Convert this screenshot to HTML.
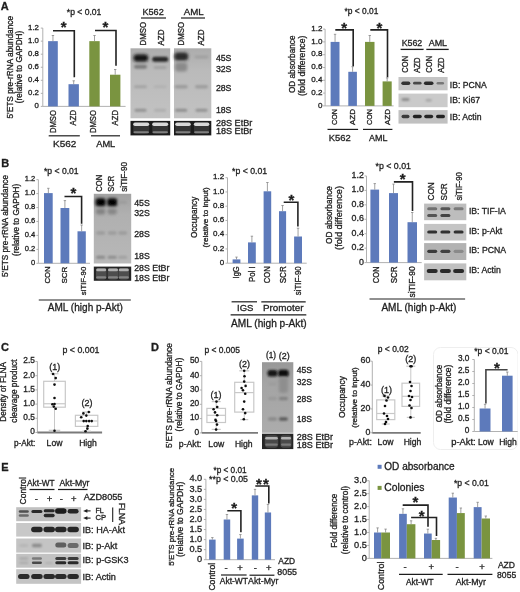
<!DOCTYPE html><html><head><meta charset="utf-8"><style>html,body{margin:0;padding:0;background:#fff;}svg{display:block;} text{stroke:#1e1e1e;stroke-width:0.3px;}</style></head><body>
<svg width="520" height="592" viewBox="0 0 520 592" font-family="Liberation Sans, sans-serif">
<rect width="520" height="592" fill="#fff"/>
<defs>
<filter id="b06" x="-50%" y="-50%" width="200%" height="200%"><feGaussianBlur stdDeviation="0.6"/></filter>
<filter id="b1" x="-50%" y="-50%" width="200%" height="200%"><feGaussianBlur stdDeviation="1"/></filter>
<filter id="b15" x="-50%" y="-50%" width="200%" height="200%"><feGaussianBlur stdDeviation="1.5"/></filter>
<filter id="gb" x="0" y="0" width="100%" height="100%"><feGaussianBlur stdDeviation="0.42"/></filter>
<filter id="b2" x="-50%" y="-50%" width="200%" height="200%"><feGaussianBlur stdDeviation="2"/></filter>
<linearGradient id="gelA" x1="0" y1="0" x2="0" y2="1"><stop offset="0" stop-color="#acacac"/><stop offset="0.3" stop-color="#bababa"/><stop offset="1" stop-color="#c2c2c2"/></linearGradient>
<linearGradient id="gelD" x1="0" y1="0" x2="0" y2="1"><stop offset="0" stop-color="#989898"/><stop offset="0.3" stop-color="#a4a4a4"/><stop offset="1" stop-color="#acacac"/></linearGradient>
<linearGradient id="gelB" x1="0" y1="0" x2="0" y2="1"><stop offset="0" stop-color="#a2a2a2"/><stop offset="0.3" stop-color="#b0b0b0"/><stop offset="1" stop-color="#b8b8b8"/></linearGradient>
</defs>
<g filter="url(#gb)">
<text x="0.80" y="9.60" font-size="11.00" text-anchor="start" font-weight="bold" fill="#1e1e1e">A</text>
<text x="66.80" y="14.77" font-size="8.59" text-anchor="start" fill="#1e1e1e">*p &lt; 0.01</text>
<line x1="42.80" y1="28.10" x2="42.80" y2="106.40" stroke="#a8a8a8" stroke-width="0.9"/>
<line x1="40.80" y1="106.40" x2="42.80" y2="106.40" stroke="#a8a8a8" stroke-width="0.9"/>
<text x="38.90" y="108.09" font-size="7.80" text-anchor="end" fill="#1e1e1e">0</text>
<line x1="40.80" y1="93.35" x2="42.80" y2="93.35" stroke="#a8a8a8" stroke-width="0.9"/>
<text x="38.90" y="95.04" font-size="7.80" text-anchor="end" fill="#1e1e1e">0.2</text>
<line x1="40.80" y1="80.30" x2="42.80" y2="80.30" stroke="#a8a8a8" stroke-width="0.9"/>
<text x="38.90" y="81.99" font-size="7.80" text-anchor="end" fill="#1e1e1e">0.4</text>
<line x1="40.80" y1="67.25" x2="42.80" y2="67.25" stroke="#a8a8a8" stroke-width="0.9"/>
<text x="38.90" y="68.94" font-size="7.80" text-anchor="end" fill="#1e1e1e">0.6</text>
<line x1="40.80" y1="54.20" x2="42.80" y2="54.20" stroke="#a8a8a8" stroke-width="0.9"/>
<text x="38.90" y="55.89" font-size="7.80" text-anchor="end" fill="#1e1e1e">0.8</text>
<line x1="40.80" y1="41.15" x2="42.80" y2="41.15" stroke="#a8a8a8" stroke-width="0.9"/>
<text x="38.90" y="42.84" font-size="7.80" text-anchor="end" fill="#1e1e1e">1.0</text>
<line x1="40.80" y1="28.10" x2="42.80" y2="28.10" stroke="#a8a8a8" stroke-width="0.9"/>
<text x="38.90" y="29.79" font-size="7.80" text-anchor="end" fill="#1e1e1e">1.2</text>
<line x1="42.80" y1="106.40" x2="125.60" y2="106.40" stroke="#a8a8a8" stroke-width="0.9"/>
<rect x="48.10" y="41.15" width="9.70" height="65.25" fill="#5d7abb" />
<line x1="52.95" y1="41.15" x2="52.95" y2="35.50" stroke="#808080" stroke-width="0.75"/>
<line x1="51.75" y1="35.50" x2="54.15" y2="35.50" stroke="#808080" stroke-width="0.75"/>
<rect x="68.50" y="84.20" width="10.40" height="22.20" fill="#5d7abb" />
<line x1="73.70" y1="84.20" x2="73.70" y2="80.80" stroke="#808080" stroke-width="0.75"/>
<line x1="72.50" y1="80.80" x2="74.90" y2="80.80" stroke="#808080" stroke-width="0.75"/>
<rect x="89.30" y="41.15" width="10.40" height="65.25" fill="#7a9440" />
<line x1="94.50" y1="41.15" x2="94.50" y2="35.50" stroke="#808080" stroke-width="0.75"/>
<line x1="93.30" y1="35.50" x2="95.70" y2="35.50" stroke="#808080" stroke-width="0.75"/>
<rect x="110.00" y="74.70" width="10.40" height="31.70" fill="#7a9440" />
<line x1="115.20" y1="74.70" x2="115.20" y2="69.50" stroke="#808080" stroke-width="0.75"/>
<line x1="114.00" y1="69.50" x2="116.40" y2="69.50" stroke="#808080" stroke-width="0.75"/>
<polyline points="53.00,30.80 74.30,30.80 74.30,77.30" fill="none" stroke="#222" stroke-width="1.6"/>
<polyline points="95.00,30.50 116.00,30.50 116.00,65.70" fill="none" stroke="#222" stroke-width="1.6"/>
<text x="63.70" y="32.20" font-size="15.00" text-anchor="middle" font-weight="bold" fill="#1e1e1e">*</text>
<text x="105.40" y="31.90" font-size="15.00" text-anchor="middle" font-weight="bold" fill="#1e1e1e">*</text>
<text transform="translate(55.71,133.10) rotate(-90)" x="0" y="0" font-size="8.40" text-anchor="start" fill="#1e1e1e" textLength="23.10" lengthAdjust="spacingAndGlyphs">DMSO</text>
<text transform="translate(75.91,125.40) rotate(-90)" x="0" y="0" font-size="8.40" text-anchor="start" fill="#1e1e1e" textLength="15.40" lengthAdjust="spacingAndGlyphs">AZD</text>
<text transform="translate(96.31,133.10) rotate(-90)" x="0" y="0" font-size="8.40" text-anchor="start" fill="#1e1e1e" textLength="23.10" lengthAdjust="spacingAndGlyphs">DMSO</text>
<text transform="translate(117.61,125.40) rotate(-90)" x="0" y="0" font-size="8.40" text-anchor="start" fill="#1e1e1e" textLength="15.40" lengthAdjust="spacingAndGlyphs">AZD</text>
<line x1="48.70" y1="135.80" x2="79.80" y2="135.80" stroke="#1e1e1e" stroke-width="1.2"/>
<line x1="91.00" y1="135.80" x2="120.00" y2="135.80" stroke="#1e1e1e" stroke-width="1.2"/>
<text x="53.00" y="146.97" font-size="9.98" text-anchor="start" fill="#1e1e1e">K562</text>
<text x="96.20" y="146.73" font-size="9.29" text-anchor="start" fill="#1e1e1e">AML</text>
<text transform="translate(12.50,118.50) rotate(-90)" x="0" y="0" font-size="8.31" text-anchor="start" fill="#1e1e1e">5'ETS pre-rRNA abundance</text>
<text transform="translate(21.90,103.20) rotate(-90)" x="0" y="0" font-size="8.21" text-anchor="start" fill="#1e1e1e">(relative to GAPDH)</text>
<text x="142.50" y="15.06" font-size="9.10" text-anchor="start" fill="#1e1e1e">K562</text>
<line x1="141.00" y1="18.00" x2="166.00" y2="18.00" stroke="#1e1e1e" stroke-width="1.2"/>
<text x="183.75" y="15.28" font-size="9.73" text-anchor="start" fill="#1e1e1e">AML</text>
<line x1="181.00" y1="18.00" x2="205.00" y2="18.00" stroke="#1e1e1e" stroke-width="1.2"/>
<text transform="translate(145.94,45.50) rotate(-90)" x="0" y="0" font-size="8.20" text-anchor="start" fill="#1e1e1e" textLength="23.50" lengthAdjust="spacingAndGlyphs">DMSO</text>
<text transform="translate(163.94,45.50) rotate(-90)" x="0" y="0" font-size="8.20" text-anchor="start" fill="#1e1e1e" textLength="16.00" lengthAdjust="spacingAndGlyphs">AZD</text>
<text transform="translate(183.94,45.50) rotate(-90)" x="0" y="0" font-size="8.20" text-anchor="start" fill="#1e1e1e" textLength="23.50" lengthAdjust="spacingAndGlyphs">DMSO</text>
<text transform="translate(203.94,45.50) rotate(-90)" x="0" y="0" font-size="8.20" text-anchor="start" fill="#1e1e1e" textLength="16.00" lengthAdjust="spacingAndGlyphs">AZD</text>
<rect x="130.50" y="48.30" width="39.70" height="70.00" fill="url(#gelA)" />
<rect x="174.00" y="48.30" width="37.30" height="70.00" fill="url(#gelA)" />
<rect x="133.30" y="54.25" width="15.00" height="7.50" rx="3.75" fill="#141414" opacity="1" filter="url(#b15)"/>
<rect x="152.20" y="56.70" width="16.00" height="5.00" rx="2.50" fill="#262626" opacity="1" filter="url(#b1)"/>
<rect x="134.00" y="64.80" width="13.00" height="4.00" rx="2.00" fill="#7c7c7c" opacity="1" filter="url(#b1)"/>
<rect x="153.60" y="66.00" width="13.00" height="3.00" rx="1.50" fill="#a2a2a2" opacity="1" filter="url(#b1)"/>
<rect x="134.00" y="85.30" width="13.00" height="3.00" rx="1.50" fill="#a4a4a4" opacity="1" filter="url(#b1)"/>
<rect x="153.60" y="85.30" width="13.00" height="3.00" rx="1.50" fill="#b2b2b2" opacity="1" filter="url(#b1)"/>
<rect x="134.50" y="108.80" width="12.00" height="3.00" rx="1.50" fill="#929292" opacity="1" filter="url(#b1)"/>
<rect x="154.10" y="108.80" width="12.00" height="3.00" rx="1.50" fill="#aeaeae" opacity="1" filter="url(#b1)"/>
<rect x="174.20" y="52.50" width="14.00" height="8.00" rx="3.50" fill="#2c2c2c" opacity="1" filter="url(#b15)"/>
<rect x="175.20" y="62.50" width="12.00" height="9.00" rx="3.00" fill="#8a8a8a" opacity="1" filter="url(#b15)"/>
<rect x="194.50" y="55.50" width="14.00" height="3.00" rx="1.50" fill="#a0a0a0" opacity="1" filter="url(#b1)"/>
<rect x="174.70" y="85.05" width="13.00" height="3.50" rx="1.75" fill="#9c9c9c" opacity="1" filter="url(#b1)"/>
<rect x="195.00" y="85.05" width="13.00" height="3.50" rx="1.75" fill="#9e9e9e" opacity="1" filter="url(#b1)"/>
<rect x="175.20" y="108.80" width="12.00" height="3.00" rx="1.50" fill="#8e8e8e" opacity="1" filter="url(#b1)"/>
<rect x="195.50" y="108.80" width="12.00" height="3.00" rx="1.50" fill="#929292" opacity="1" filter="url(#b1)"/>
<rect x="130.50" y="120.90" width="39.70" height="14.50" fill="#1c1c1c" />
<rect x="133.20" y="122.71" width="16.00" height="10.88" rx="4.00" fill="#363636" opacity="1" filter="url(#b06)"/>
<rect x="133.20" y="122.50" width="16.00" height="3.48" rx="1.74" fill="#d8d8d8" opacity="1" filter="url(#b06)"/>
<rect x="133.45" y="131.20" width="15.50" height="2.03" rx="1.02" fill="#808080" opacity="1" filter="url(#b06)"/>
<rect x="152.20" y="122.71" width="16.00" height="10.88" rx="4.00" fill="#363636" opacity="1" filter="url(#b06)"/>
<rect x="152.20" y="122.50" width="16.00" height="3.48" rx="1.74" fill="#d8d8d8" opacity="1" filter="url(#b06)"/>
<rect x="152.45" y="131.20" width="15.50" height="2.03" rx="1.02" fill="#808080" opacity="1" filter="url(#b06)"/>
<rect x="174.00" y="120.90" width="37.30" height="14.50" fill="#1c1c1c" />
<rect x="175.25" y="122.71" width="15.50" height="10.88" rx="3.88" fill="#363636" opacity="1" filter="url(#b06)"/>
<rect x="175.25" y="122.50" width="15.50" height="3.48" rx="1.74" fill="#d8d8d8" opacity="1" filter="url(#b06)"/>
<rect x="175.50" y="131.20" width="15.00" height="2.03" rx="1.02" fill="#808080" opacity="1" filter="url(#b06)"/>
<rect x="193.85" y="122.71" width="15.50" height="10.88" rx="3.88" fill="#363636" opacity="1" filter="url(#b06)"/>
<rect x="193.85" y="122.50" width="15.50" height="3.48" rx="1.74" fill="#d8d8d8" opacity="1" filter="url(#b06)"/>
<rect x="194.10" y="131.20" width="15.00" height="2.03" rx="1.02" fill="#808080" opacity="1" filter="url(#b06)"/>
<text x="215.90" y="60.64" font-size="8.76" text-anchor="start" fill="#1e1e1e">45S</text>
<text x="215.90" y="72.24" font-size="8.76" text-anchor="start" fill="#1e1e1e">32S</text>
<text x="215.90" y="90.74" font-size="8.76" text-anchor="start" fill="#1e1e1e">28S</text>
<text x="215.90" y="112.64" font-size="8.76" text-anchor="start" fill="#1e1e1e">18S</text>
<text x="215.90" y="125.96" font-size="9.10" text-anchor="start" fill="#1e1e1e">28S EtBr</text>
<text x="215.90" y="134.26" font-size="9.10" text-anchor="start" fill="#1e1e1e">18S EtBr</text>
<text x="344.60" y="14.30" font-size="8.39" text-anchor="start" fill="#1e1e1e">*p &lt; 0.01</text>
<line x1="325.10" y1="29.10" x2="325.10" y2="105.90" stroke="#a8a8a8" stroke-width="0.9"/>
<line x1="323.10" y1="105.90" x2="325.10" y2="105.90" stroke="#a8a8a8" stroke-width="0.9"/>
<text x="322.40" y="107.69" font-size="8.06" text-anchor="end" fill="#1e1e1e">0</text>
<line x1="323.10" y1="93.10" x2="325.10" y2="93.10" stroke="#a8a8a8" stroke-width="0.9"/>
<text x="322.40" y="94.89" font-size="8.06" text-anchor="end" fill="#1e1e1e">0.2</text>
<line x1="323.10" y1="80.30" x2="325.10" y2="80.30" stroke="#a8a8a8" stroke-width="0.9"/>
<text x="322.40" y="82.09" font-size="8.06" text-anchor="end" fill="#1e1e1e">0.4</text>
<line x1="323.10" y1="67.50" x2="325.10" y2="67.50" stroke="#a8a8a8" stroke-width="0.9"/>
<text x="322.40" y="69.29" font-size="8.06" text-anchor="end" fill="#1e1e1e">0.6</text>
<line x1="323.10" y1="54.70" x2="325.10" y2="54.70" stroke="#a8a8a8" stroke-width="0.9"/>
<text x="322.40" y="56.49" font-size="8.06" text-anchor="end" fill="#1e1e1e">0.8</text>
<line x1="323.10" y1="41.90" x2="325.10" y2="41.90" stroke="#a8a8a8" stroke-width="0.9"/>
<text x="322.40" y="43.69" font-size="8.06" text-anchor="end" fill="#1e1e1e">1.0</text>
<line x1="323.10" y1="29.10" x2="325.10" y2="29.10" stroke="#a8a8a8" stroke-width="0.9"/>
<text x="322.40" y="30.89" font-size="8.06" text-anchor="end" fill="#1e1e1e">1.2</text>
<line x1="325.10" y1="105.90" x2="393.60" y2="105.90" stroke="#a8a8a8" stroke-width="0.9"/>
<rect x="330.60" y="41.90" width="8.90" height="64.00" fill="#5d7abb" />
<line x1="335.05" y1="41.90" x2="335.05" y2="34.30" stroke="#808080" stroke-width="0.75"/>
<line x1="333.85" y1="34.30" x2="336.25" y2="34.30" stroke="#808080" stroke-width="0.75"/>
<rect x="348.30" y="71.80" width="8.60" height="34.10" fill="#5d7abb" />
<line x1="352.60" y1="71.80" x2="352.60" y2="66.70" stroke="#808080" stroke-width="0.75"/>
<line x1="351.40" y1="66.70" x2="353.80" y2="66.70" stroke="#808080" stroke-width="0.75"/>
<rect x="365.00" y="41.90" width="9.50" height="64.00" fill="#7a9440" />
<line x1="369.75" y1="41.90" x2="369.75" y2="35.50" stroke="#808080" stroke-width="0.75"/>
<line x1="368.55" y1="35.50" x2="370.95" y2="35.50" stroke="#808080" stroke-width="0.75"/>
<rect x="382.60" y="81.40" width="9.10" height="24.50" fill="#7a9440" />
<line x1="387.15" y1="81.40" x2="387.15" y2="77.90" stroke="#808080" stroke-width="0.75"/>
<line x1="385.95" y1="77.90" x2="388.35" y2="77.90" stroke="#808080" stroke-width="0.75"/>
<polyline points="335.30,29.90 353.20,29.90 353.20,66.20" fill="none" stroke="#222" stroke-width="1.6"/>
<polyline points="370.30,29.90 387.50,29.90 387.50,77.20" fill="none" stroke="#222" stroke-width="1.6"/>
<text x="344.20" y="32.60" font-size="15.00" text-anchor="middle" font-weight="bold" fill="#1e1e1e">*</text>
<text x="379.40" y="32.60" font-size="15.00" text-anchor="middle" font-weight="bold" fill="#1e1e1e">*</text>
<text transform="translate(337.16,125.00) rotate(-90)" x="0" y="0" font-size="8.00" text-anchor="start" fill="#1e1e1e" textLength="16.02" lengthAdjust="spacingAndGlyphs">CON</text>
<text transform="translate(354.86,125.00) rotate(-90)" x="0" y="0" font-size="8.00" text-anchor="start" fill="#1e1e1e" textLength="16.00" lengthAdjust="spacingAndGlyphs">AZD</text>
<text transform="translate(371.96,125.00) rotate(-90)" x="0" y="0" font-size="8.00" text-anchor="start" fill="#1e1e1e" textLength="16.02" lengthAdjust="spacingAndGlyphs">CON</text>
<text transform="translate(390.36,125.00) rotate(-90)" x="0" y="0" font-size="8.00" text-anchor="start" fill="#1e1e1e" textLength="16.00" lengthAdjust="spacingAndGlyphs">AZD</text>
<line x1="327.50" y1="129.40" x2="358.10" y2="129.40" stroke="#1e1e1e" stroke-width="1.2"/>
<line x1="363.00" y1="129.40" x2="392.40" y2="129.40" stroke="#1e1e1e" stroke-width="1.2"/>
<text x="328.70" y="141.07" font-size="9.42" text-anchor="start" fill="#1e1e1e">K562</text>
<text x="369.10" y="140.91" font-size="8.95" text-anchor="start" fill="#1e1e1e">AML</text>
<text transform="translate(295.20,93.10) rotate(-90)" x="0" y="0" font-size="8.22" text-anchor="start" fill="#1e1e1e">OD absorbance</text>
<text transform="translate(304.60,96.00) rotate(-90)" x="0" y="0" font-size="8.73" text-anchor="start" fill="#1e1e1e">(fold difference)</text>
<text x="401.70" y="46.06" font-size="8.82" text-anchor="start" fill="#1e1e1e">K562</text>
<text x="428.70" y="46.11" font-size="8.95" text-anchor="start" fill="#1e1e1e">AML</text>
<line x1="400.60" y1="49.40" x2="423.60" y2="49.40" stroke="#1e1e1e" stroke-width="1.3"/>
<line x1="426.30" y1="49.40" x2="448.70" y2="49.40" stroke="#1e1e1e" stroke-width="1.3"/>
<text transform="translate(407.94,72.70) rotate(-90)" x="0" y="0" font-size="8.20" text-anchor="start" fill="#1e1e1e" textLength="16.82" lengthAdjust="spacingAndGlyphs">CON</text>
<text transform="translate(419.64,72.70) rotate(-90)" x="0" y="0" font-size="8.20" text-anchor="start" fill="#1e1e1e" textLength="15.20" lengthAdjust="spacingAndGlyphs">AZD</text>
<text transform="translate(431.94,72.70) rotate(-90)" x="0" y="0" font-size="8.20" text-anchor="start" fill="#1e1e1e" textLength="16.82" lengthAdjust="spacingAndGlyphs">CON</text>
<text transform="translate(443.64,72.70) rotate(-90)" x="0" y="0" font-size="8.20" text-anchor="start" fill="#1e1e1e" textLength="15.20" lengthAdjust="spacingAndGlyphs">AZD</text>
<rect x="398.50" y="77.00" width="49.10" height="13.30" fill="#c4c4c4" />
<rect x="401.30" y="81.50" width="9.00" height="3.40" rx="1.70" fill="#333" opacity="1" filter="url(#b06)"/>
<rect x="413.05" y="81.80" width="8.50" height="2.80" rx="1.40" fill="#4a4a4a" opacity="1" filter="url(#b06)"/>
<rect x="423.90" y="81.40" width="9.60" height="3.60" rx="1.80" fill="#2c2c2c" opacity="1" filter="url(#b06)"/>
<rect x="436.55" y="81.90" width="7.50" height="2.60" rx="1.30" fill="#777" opacity="1" filter="url(#b06)"/>
<rect x="398.50" y="93.60" width="49.10" height="13.60" fill="#cacaca" />
<rect x="401.50" y="98.10" width="8.00" height="3.00" rx="1.50" fill="#8e8e8e" opacity="1" filter="url(#b1)"/>
<rect x="425.70" y="98.95" width="6.00" height="2.50" rx="1.25" fill="#a4a4a4" opacity="1" filter="url(#b1)"/>
<rect x="398.50" y="110.10" width="49.10" height="13.50" fill="#c0c0c0" />
<rect x="401.50" y="114.70" width="8.00" height="3.60" rx="1.80" fill="#3a3a3a" opacity="1" filter="url(#b06)"/>
<rect x="412.80" y="114.70" width="9.00" height="3.60" rx="1.80" fill="#222" opacity="1" filter="url(#b06)"/>
<rect x="424.20" y="114.70" width="9.00" height="3.60" rx="1.80" fill="#262626" opacity="1" filter="url(#b06)"/>
<rect x="436.00" y="114.70" width="9.00" height="3.60" rx="1.80" fill="#242424" opacity="1" filter="url(#b06)"/>
<text x="449.80" y="87.89" font-size="8.64" text-anchor="start" fill="#1e1e1e">IB: PCNA</text>
<text x="449.80" y="103.19" font-size="8.64" text-anchor="start" fill="#1e1e1e">IB: Ki67</text>
<text x="449.80" y="119.59" font-size="8.64" text-anchor="start" fill="#1e1e1e">IB: Actin</text>
<text x="1.20" y="167.30" font-size="11.00" text-anchor="start" font-weight="bold" fill="#1e1e1e">B</text>
<text x="44.00" y="174.38" font-size="8.61" text-anchor="start" fill="#1e1e1e">*p &lt; 0.01</text>
<line x1="38.40" y1="179.66" x2="38.40" y2="263.30" stroke="#a8a8a8" stroke-width="0.9"/>
<line x1="36.40" y1="263.30" x2="38.40" y2="263.30" stroke="#a8a8a8" stroke-width="0.9"/>
<text x="35.20" y="264.90" font-size="7.55" text-anchor="end" fill="#1e1e1e">0</text>
<line x1="36.40" y1="249.36" x2="38.40" y2="249.36" stroke="#a8a8a8" stroke-width="0.9"/>
<text x="35.20" y="250.96" font-size="7.55" text-anchor="end" fill="#1e1e1e">0.2</text>
<line x1="36.40" y1="235.42" x2="38.40" y2="235.42" stroke="#a8a8a8" stroke-width="0.9"/>
<text x="35.20" y="237.02" font-size="7.55" text-anchor="end" fill="#1e1e1e">0.4</text>
<line x1="36.40" y1="221.48" x2="38.40" y2="221.48" stroke="#a8a8a8" stroke-width="0.9"/>
<text x="35.20" y="223.08" font-size="7.55" text-anchor="end" fill="#1e1e1e">0.6</text>
<line x1="36.40" y1="207.54" x2="38.40" y2="207.54" stroke="#a8a8a8" stroke-width="0.9"/>
<text x="35.20" y="209.14" font-size="7.55" text-anchor="end" fill="#1e1e1e">0.8</text>
<line x1="36.40" y1="193.60" x2="38.40" y2="193.60" stroke="#a8a8a8" stroke-width="0.9"/>
<text x="35.20" y="195.20" font-size="7.55" text-anchor="end" fill="#1e1e1e">1.0</text>
<line x1="36.40" y1="179.66" x2="38.40" y2="179.66" stroke="#a8a8a8" stroke-width="0.9"/>
<text x="35.20" y="181.26" font-size="7.55" text-anchor="end" fill="#1e1e1e">1.2</text>
<line x1="38.40" y1="263.30" x2="90.00" y2="263.30" stroke="#a8a8a8" stroke-width="0.9"/>
<rect x="44.00" y="193.10" width="8.70" height="70.20" fill="#5d7abb" />
<line x1="48.35" y1="193.10" x2="48.35" y2="188.30" stroke="#808080" stroke-width="0.75"/>
<line x1="47.15" y1="188.30" x2="49.55" y2="188.30" stroke="#808080" stroke-width="0.75"/>
<rect x="60.50" y="208.00" width="8.80" height="55.30" fill="#5d7abb" />
<line x1="64.90" y1="208.00" x2="64.90" y2="200.60" stroke="#808080" stroke-width="0.75"/>
<line x1="63.70" y1="200.60" x2="66.10" y2="200.60" stroke="#808080" stroke-width="0.75"/>
<rect x="77.50" y="231.30" width="8.30" height="32.00" fill="#5d7abb" />
<line x1="81.65" y1="231.30" x2="81.65" y2="225.00" stroke="#808080" stroke-width="0.75"/>
<line x1="80.45" y1="225.00" x2="82.85" y2="225.00" stroke="#808080" stroke-width="0.75"/>
<polyline points="64.50,196.50 81.60,196.50 81.60,223.80" fill="none" stroke="#222" stroke-width="1.6"/>
<text x="73.30" y="198.30" font-size="15.00" text-anchor="middle" font-weight="bold" fill="#1e1e1e">*</text>
<text transform="translate(49.60,283.60) rotate(-90)" x="0" y="0" font-size="8.10" text-anchor="start" fill="#1e1e1e" textLength="17.32" lengthAdjust="spacingAndGlyphs">CON</text>
<text transform="translate(66.90,283.60) rotate(-90)" x="0" y="0" font-size="8.10" text-anchor="start" fill="#1e1e1e" textLength="16.81" lengthAdjust="spacingAndGlyphs">SCR</text>
<text transform="translate(85.70,295.20) rotate(-90)" x="0" y="0" font-size="8.10" text-anchor="start" fill="#1e1e1e" textLength="28.42" lengthAdjust="spacingAndGlyphs">siTIF-90</text>
<text transform="translate(8.20,277.00) rotate(-90)" x="0" y="0" font-size="8.26" text-anchor="start" fill="#1e1e1e">5'ETS pre-rRNA abundance</text>
<text transform="translate(18.50,256.00) rotate(-90)" x="0" y="0" font-size="8.18" text-anchor="start" fill="#1e1e1e">(relative to GAPDH)</text>
<rect x="93.80" y="193.80" width="37.40" height="69.70" fill="url(#gelB)" />
<rect x="95.60" y="198.30" width="10.00" height="8.00" rx="2.50" fill="#000" opacity="1" filter="url(#b15)"/>
<rect x="107.20" y="198.30" width="10.00" height="8.00" rx="2.50" fill="#050505" opacity="1" filter="url(#b15)"/>
<rect x="96.10" y="208.50" width="9.00" height="6.00" rx="2.25" fill="#828282" opacity="1" filter="url(#b15)"/>
<rect x="107.70" y="208.50" width="9.00" height="6.00" rx="2.25" fill="#868686" opacity="1" filter="url(#b15)"/>
<rect x="118.20" y="200.80" width="9.00" height="3.00" rx="1.50" fill="#9c9c9c" opacity="1" filter="url(#b1)"/>
<rect x="96.10" y="231.15" width="9.00" height="3.50" rx="1.75" fill="#9c9c9c" opacity="1" filter="url(#b1)"/>
<rect x="107.70" y="231.15" width="9.00" height="3.50" rx="1.75" fill="#9c9c9c" opacity="1" filter="url(#b1)"/>
<rect x="118.20" y="231.15" width="9.00" height="3.50" rx="1.75" fill="#9c9c9c" opacity="1" filter="url(#b1)"/>
<rect x="96.10" y="255.70" width="9.00" height="3.00" rx="1.50" fill="#8a8a8a" opacity="1" filter="url(#b1)"/>
<rect x="107.70" y="255.70" width="9.00" height="3.00" rx="1.50" fill="#8e8e8e" opacity="1" filter="url(#b1)"/>
<rect x="118.20" y="255.70" width="9.00" height="3.00" rx="1.50" fill="#a0a0a0" opacity="1" filter="url(#b1)"/>
<rect x="93.80" y="266.60" width="37.40" height="14.20" fill="#262626" />
<rect x="95.95" y="267.95" width="10.50" height="11.50" rx="2.62" fill="#4e4e4e" opacity="1" filter="url(#b06)"/>
<rect x="96.20" y="268.50" width="10.00" height="2.80" rx="1.40" fill="#b0b0b0" opacity="1" filter="url(#b06)"/>
<rect x="96.20" y="276.20" width="10.00" height="2.40" rx="1.20" fill="#848484" opacity="1" filter="url(#b06)"/>
<rect x="107.75" y="267.95" width="10.50" height="11.50" rx="2.62" fill="#4e4e4e" opacity="1" filter="url(#b06)"/>
<rect x="108.00" y="268.50" width="10.00" height="2.80" rx="1.40" fill="#b0b0b0" opacity="1" filter="url(#b06)"/>
<rect x="108.00" y="276.20" width="10.00" height="2.40" rx="1.20" fill="#848484" opacity="1" filter="url(#b06)"/>
<rect x="118.55" y="267.95" width="10.50" height="11.50" rx="2.62" fill="#4e4e4e" opacity="1" filter="url(#b06)"/>
<rect x="118.80" y="268.50" width="10.00" height="2.80" rx="1.40" fill="#b0b0b0" opacity="1" filter="url(#b06)"/>
<rect x="118.80" y="276.20" width="10.00" height="2.40" rx="1.20" fill="#848484" opacity="1" filter="url(#b06)"/>
<text transform="translate(102.44,191.70) rotate(-90)" x="0" y="0" font-size="8.20" text-anchor="start" fill="#1e1e1e" textLength="16.92" lengthAdjust="spacingAndGlyphs">CON</text>
<text transform="translate(114.04,191.70) rotate(-90)" x="0" y="0" font-size="8.20" text-anchor="start" fill="#1e1e1e" textLength="15.91" lengthAdjust="spacingAndGlyphs">SCR</text>
<text transform="translate(126.74,191.70) rotate(-90)" x="0" y="0" font-size="8.20" text-anchor="start" fill="#1e1e1e" textLength="29.62" lengthAdjust="spacingAndGlyphs">siTIF-90</text>
<text x="134.20" y="206.05" font-size="8.80" text-anchor="start" fill="#1e1e1e">45S</text>
<text x="134.20" y="216.45" font-size="8.80" text-anchor="start" fill="#1e1e1e">32S</text>
<text x="134.20" y="236.95" font-size="8.80" text-anchor="start" fill="#1e1e1e">28S</text>
<text x="134.20" y="259.45" font-size="8.80" text-anchor="start" fill="#1e1e1e">18S</text>
<text x="134.20" y="271.15" font-size="8.80" text-anchor="start" fill="#1e1e1e">28S EtBr</text>
<text x="134.20" y="280.85" font-size="8.80" text-anchor="start" fill="#1e1e1e">18S EtBr</text>
<line x1="38.80" y1="300.00" x2="130.80" y2="300.00" stroke="#1e1e1e" stroke-width="1.2"/>
<text x="47.80" y="310.80" font-size="10.06" text-anchor="start" fill="#1e1e1e">AML (high p-Akt)</text>
<text x="232.10" y="174.41" font-size="8.68" text-anchor="start" fill="#1e1e1e">*p &lt; 0.01</text>
<line x1="227.50" y1="177.70" x2="227.50" y2="263.20" stroke="#a8a8a8" stroke-width="0.9"/>
<line x1="225.50" y1="263.20" x2="227.50" y2="263.20" stroke="#a8a8a8" stroke-width="0.9"/>
<text x="224.20" y="264.96" font-size="8.00" text-anchor="end" fill="#1e1e1e">0</text>
<line x1="225.50" y1="248.95" x2="227.50" y2="248.95" stroke="#a8a8a8" stroke-width="0.9"/>
<text x="224.20" y="250.71" font-size="8.00" text-anchor="end" fill="#1e1e1e">0.2</text>
<line x1="225.50" y1="234.70" x2="227.50" y2="234.70" stroke="#a8a8a8" stroke-width="0.9"/>
<text x="224.20" y="236.46" font-size="8.00" text-anchor="end" fill="#1e1e1e">0.4</text>
<line x1="225.50" y1="220.45" x2="227.50" y2="220.45" stroke="#a8a8a8" stroke-width="0.9"/>
<text x="224.20" y="222.21" font-size="8.00" text-anchor="end" fill="#1e1e1e">0.6</text>
<line x1="225.50" y1="206.20" x2="227.50" y2="206.20" stroke="#a8a8a8" stroke-width="0.9"/>
<text x="224.20" y="207.96" font-size="8.00" text-anchor="end" fill="#1e1e1e">0.8</text>
<line x1="225.50" y1="191.95" x2="227.50" y2="191.95" stroke="#a8a8a8" stroke-width="0.9"/>
<text x="224.20" y="193.71" font-size="8.00" text-anchor="end" fill="#1e1e1e">1.0</text>
<line x1="225.50" y1="177.70" x2="227.50" y2="177.70" stroke="#a8a8a8" stroke-width="0.9"/>
<text x="224.20" y="179.46" font-size="8.00" text-anchor="end" fill="#1e1e1e">1.2</text>
<line x1="227.50" y1="263.20" x2="306.70" y2="263.20" stroke="#a8a8a8" stroke-width="0.9"/>
<rect x="232.60" y="259.40" width="7.80" height="3.80" fill="#5d7abb" />
<line x1="236.50" y1="259.40" x2="236.50" y2="257.10" stroke="#808080" stroke-width="0.75"/>
<line x1="235.30" y1="257.10" x2="237.70" y2="257.10" stroke="#808080" stroke-width="0.75"/>
<rect x="248.00" y="242.40" width="7.80" height="20.80" fill="#5d7abb" />
<line x1="251.90" y1="242.40" x2="251.90" y2="236.20" stroke="#808080" stroke-width="0.75"/>
<line x1="250.70" y1="236.20" x2="253.10" y2="236.20" stroke="#808080" stroke-width="0.75"/>
<rect x="263.60" y="191.30" width="7.60" height="71.90" fill="#5d7abb" />
<line x1="267.40" y1="191.30" x2="267.40" y2="182.50" stroke="#808080" stroke-width="0.75"/>
<line x1="266.20" y1="182.50" x2="268.60" y2="182.50" stroke="#808080" stroke-width="0.75"/>
<rect x="279.00" y="211.20" width="7.10" height="52.00" fill="#5d7abb" />
<line x1="282.55" y1="211.20" x2="282.55" y2="205.50" stroke="#808080" stroke-width="0.75"/>
<line x1="281.35" y1="205.50" x2="283.75" y2="205.50" stroke="#808080" stroke-width="0.75"/>
<rect x="294.10" y="236.50" width="7.90" height="26.70" fill="#5d7abb" />
<line x1="298.05" y1="236.50" x2="298.05" y2="228.20" stroke="#808080" stroke-width="0.75"/>
<line x1="296.85" y1="228.20" x2="299.25" y2="228.20" stroke="#808080" stroke-width="0.75"/>
<polyline points="283.70,202.30 297.90,202.30 297.90,226.50" fill="none" stroke="#222" stroke-width="1.6"/>
<text x="291.50" y="204.90" font-size="15.00" text-anchor="middle" font-weight="bold" fill="#1e1e1e">*</text>
<text transform="translate(197.40,238.00) rotate(-90)" x="0" y="0" font-size="8.27" text-anchor="start" fill="#1e1e1e">Occupancy</text>
<text transform="translate(208.10,247.40) rotate(-90)" x="0" y="0" font-size="8.08" text-anchor="start" fill="#1e1e1e">(relative to input)</text>
<text transform="translate(238.74,278.40) rotate(-90)" x="0" y="0" font-size="8.50" text-anchor="start" fill="#1e1e1e" textLength="12.11" lengthAdjust="spacingAndGlyphs">IgG</text>
<text transform="translate(254.54,281.90) rotate(-90)" x="0" y="0" font-size="8.50" text-anchor="start" fill="#1e1e1e" textLength="15.61" lengthAdjust="spacingAndGlyphs">Pol I</text>
<text transform="translate(269.94,283.30) rotate(-90)" x="0" y="0" font-size="8.50" text-anchor="start" fill="#1e1e1e" textLength="17.02" lengthAdjust="spacingAndGlyphs">CON</text>
<text transform="translate(285.54,283.30) rotate(-90)" x="0" y="0" font-size="8.50" text-anchor="start" fill="#1e1e1e" textLength="17.01" lengthAdjust="spacingAndGlyphs">SCR</text>
<text transform="translate(300.94,295.20) rotate(-90)" x="0" y="0" font-size="8.50" text-anchor="start" fill="#1e1e1e" textLength="28.92" lengthAdjust="spacingAndGlyphs">siTIF-90</text>
<line x1="231.60" y1="301.80" x2="257.00" y2="301.80" stroke="#1e1e1e" stroke-width="1.2"/>
<line x1="261.30" y1="301.80" x2="305.70" y2="301.80" stroke="#1e1e1e" stroke-width="1.2"/>
<text x="237.00" y="311.00" font-size="9.51" text-anchor="start" fill="#1e1e1e">IGS</text>
<text x="263.00" y="311.13" font-size="9.87" text-anchor="start" fill="#1e1e1e">Promoter</text>
<line x1="230.60" y1="314.90" x2="306.30" y2="314.90" stroke="#1e1e1e" stroke-width="1.2"/>
<text x="231.00" y="326.53" font-size="10.14" text-anchor="start" fill="#1e1e1e">AML (high p-Akt)</text>
<text x="375.60" y="168.54" font-size="8.78" text-anchor="start" fill="#1e1e1e">*p &lt; 0.01</text>
<line x1="366.50" y1="175.96" x2="366.50" y2="262.60" stroke="#a8a8a8" stroke-width="0.9"/>
<line x1="364.50" y1="262.60" x2="366.50" y2="262.60" stroke="#a8a8a8" stroke-width="0.9"/>
<text x="363.90" y="264.67" font-size="8.85" text-anchor="end" fill="#1e1e1e">0</text>
<line x1="364.50" y1="248.16" x2="366.50" y2="248.16" stroke="#a8a8a8" stroke-width="0.9"/>
<text x="363.90" y="250.23" font-size="8.85" text-anchor="end" fill="#1e1e1e">0.2</text>
<line x1="364.50" y1="233.72" x2="366.50" y2="233.72" stroke="#a8a8a8" stroke-width="0.9"/>
<text x="363.90" y="235.79" font-size="8.85" text-anchor="end" fill="#1e1e1e">0.4</text>
<line x1="364.50" y1="219.28" x2="366.50" y2="219.28" stroke="#a8a8a8" stroke-width="0.9"/>
<text x="363.90" y="221.35" font-size="8.85" text-anchor="end" fill="#1e1e1e">0.6</text>
<line x1="364.50" y1="204.84" x2="366.50" y2="204.84" stroke="#a8a8a8" stroke-width="0.9"/>
<text x="363.90" y="206.91" font-size="8.85" text-anchor="end" fill="#1e1e1e">0.8</text>
<line x1="364.50" y1="190.40" x2="366.50" y2="190.40" stroke="#a8a8a8" stroke-width="0.9"/>
<text x="363.90" y="192.47" font-size="8.85" text-anchor="end" fill="#1e1e1e">1.0</text>
<line x1="364.50" y1="175.96" x2="366.50" y2="175.96" stroke="#a8a8a8" stroke-width="0.9"/>
<text x="363.90" y="178.03" font-size="8.85" text-anchor="end" fill="#1e1e1e">1.2</text>
<line x1="366.50" y1="262.60" x2="421.70" y2="262.60" stroke="#a8a8a8" stroke-width="0.9"/>
<rect x="370.40" y="189.60" width="8.70" height="73.00" fill="#5d7abb" />
<line x1="374.75" y1="189.60" x2="374.75" y2="183.60" stroke="#808080" stroke-width="0.75"/>
<line x1="373.55" y1="183.60" x2="375.95" y2="183.60" stroke="#808080" stroke-width="0.75"/>
<rect x="389.00" y="193.10" width="9.00" height="69.50" fill="#5d7abb" />
<line x1="393.50" y1="193.10" x2="393.50" y2="184.10" stroke="#808080" stroke-width="0.75"/>
<line x1="392.30" y1="184.10" x2="394.70" y2="184.10" stroke="#808080" stroke-width="0.75"/>
<rect x="407.50" y="222.20" width="9.50" height="40.40" fill="#5d7abb" />
<line x1="412.25" y1="222.20" x2="412.25" y2="212.50" stroke="#808080" stroke-width="0.75"/>
<line x1="411.05" y1="212.50" x2="413.45" y2="212.50" stroke="#808080" stroke-width="0.75"/>
<polyline points="393.90,181.90 412.50,181.90 412.50,211.00" fill="none" stroke="#222" stroke-width="1.6"/>
<text x="402.60" y="183.60" font-size="15.00" text-anchor="middle" font-weight="bold" fill="#1e1e1e">*</text>
<text transform="translate(332.30,244.00) rotate(-90)" x="0" y="0" font-size="8.28" text-anchor="start" fill="#1e1e1e">OD absorbance</text>
<text transform="translate(341.90,249.90) rotate(-90)" x="0" y="0" font-size="9.22" text-anchor="start" fill="#1e1e1e">(fold difference)</text>
<text transform="translate(378.64,283.30) rotate(-90)" x="0" y="0" font-size="8.50" text-anchor="start" fill="#1e1e1e" textLength="16.92" lengthAdjust="spacingAndGlyphs">CON</text>
<text transform="translate(396.64,283.30) rotate(-90)" x="0" y="0" font-size="8.50" text-anchor="start" fill="#1e1e1e" textLength="16.91" lengthAdjust="spacingAndGlyphs">SCR</text>
<text transform="translate(415.44,297.50) rotate(-90)" x="0" y="0" font-size="8.50" text-anchor="start" fill="#1e1e1e" textLength="31.12" lengthAdjust="spacingAndGlyphs">siTIF-90</text>
<line x1="369.50" y1="299.00" x2="465.10" y2="299.00" stroke="#1e1e1e" stroke-width="1.2"/>
<text x="381.40" y="310.50" font-size="10.06" text-anchor="start" fill="#1e1e1e">AML (high p-Akt)</text>
<rect x="424.10" y="203.60" width="42.20" height="16.60" fill="#bdbdbd" />
<rect x="427.20" y="207.30" width="10.00" height="3.00" rx="1.50" fill="#707070" opacity="1" filter="url(#b06)"/>
<rect x="427.20" y="214.10" width="10.00" height="3.00" rx="1.50" fill="#555" opacity="1" filter="url(#b06)"/>
<rect x="440.40" y="207.30" width="10.00" height="3.00" rx="1.50" fill="#555" opacity="1" filter="url(#b06)"/>
<rect x="440.40" y="214.10" width="10.00" height="3.00" rx="1.50" fill="#444" opacity="1" filter="url(#b06)"/>
<rect x="453.60" y="207.30" width="10.00" height="3.00" rx="1.50" fill="#7a7a7a" opacity="1" filter="url(#b06)"/>
<rect x="424.10" y="223.90" width="42.20" height="16.60" fill="#c4c4c4" />
<rect x="427.20" y="230.40" width="10.00" height="3.20" rx="1.60" fill="#333" opacity="1" filter="url(#b06)"/>
<rect x="440.40" y="230.40" width="10.00" height="3.20" rx="1.60" fill="#333" opacity="1" filter="url(#b06)"/>
<rect x="453.60" y="230.40" width="10.00" height="3.20" rx="1.60" fill="#333" opacity="1" filter="url(#b06)"/>
<rect x="424.10" y="243.10" width="42.20" height="16.90" fill="#b2b2b2" />
<rect x="427.20" y="249.70" width="10.00" height="3.20" rx="1.60" fill="#3a3a3a" opacity="1" filter="url(#b06)"/>
<rect x="440.40" y="249.70" width="10.00" height="3.20" rx="1.60" fill="#404040" opacity="1" filter="url(#b06)"/>
<rect x="453.60" y="249.70" width="10.00" height="3.20" rx="1.60" fill="#8a8a8a" opacity="1" filter="url(#b06)"/>
<rect x="424.10" y="263.40" width="42.20" height="16.90" fill="#c0c0c0" />
<rect x="426.70" y="269.00" width="11.00" height="4.00" rx="2.00" fill="#2a2a2a" opacity="1" filter="url(#b06)"/>
<rect x="439.90" y="269.00" width="11.00" height="4.00" rx="2.00" fill="#2a2a2a" opacity="1" filter="url(#b06)"/>
<rect x="453.10" y="269.00" width="11.00" height="4.00" rx="2.00" fill="#2a2a2a" opacity="1" filter="url(#b06)"/>
<text x="468.90" y="214.31" font-size="8.70" text-anchor="start" fill="#1e1e1e">IB: TIF-IA</text>
<text x="468.90" y="234.41" font-size="8.70" text-anchor="start" fill="#1e1e1e">IB: p-Akt</text>
<text x="468.90" y="253.11" font-size="8.70" text-anchor="start" fill="#1e1e1e">IB: PCNA</text>
<text x="468.90" y="273.21" font-size="8.70" text-anchor="start" fill="#1e1e1e">IB: Actin</text>
<text transform="translate(434.14,200.50) rotate(-90)" x="0" y="0" font-size="8.20" text-anchor="start" fill="#1e1e1e" textLength="18.22" lengthAdjust="spacingAndGlyphs">CON</text>
<text transform="translate(446.94,200.50) rotate(-90)" x="0" y="0" font-size="8.20" text-anchor="start" fill="#1e1e1e" textLength="17.21" lengthAdjust="spacingAndGlyphs">SCR</text>
<text transform="translate(461.54,200.50) rotate(-90)" x="0" y="0" font-size="8.20" text-anchor="start" fill="#1e1e1e" textLength="28.42" lengthAdjust="spacingAndGlyphs">siTIF-90</text>
<text x="0.90" y="351.20" font-size="11.00" text-anchor="start" font-weight="bold" fill="#1e1e1e">C</text>
<text x="62.50" y="352.65" font-size="8.81" text-anchor="start" fill="#1e1e1e">p &lt; 0.001</text>
<line x1="37.40" y1="361.50" x2="37.40" y2="432.50" stroke="#a8a8a8" stroke-width="0.9"/>
<line x1="35.40" y1="432.50" x2="37.40" y2="432.50" stroke="#a8a8a8" stroke-width="0.9"/>
<text x="34.90" y="434.37" font-size="8.30" text-anchor="end" fill="#1e1e1e">0</text>
<line x1="35.40" y1="418.30" x2="37.40" y2="418.30" stroke="#a8a8a8" stroke-width="0.9"/>
<text x="34.90" y="420.17" font-size="8.30" text-anchor="end" fill="#1e1e1e">0.5</text>
<line x1="35.40" y1="404.10" x2="37.40" y2="404.10" stroke="#a8a8a8" stroke-width="0.9"/>
<text x="34.90" y="405.97" font-size="8.30" text-anchor="end" fill="#1e1e1e">1.0</text>
<line x1="35.40" y1="389.90" x2="37.40" y2="389.90" stroke="#a8a8a8" stroke-width="0.9"/>
<text x="34.90" y="391.77" font-size="8.30" text-anchor="end" fill="#1e1e1e">1.5</text>
<line x1="35.40" y1="375.70" x2="37.40" y2="375.70" stroke="#a8a8a8" stroke-width="0.9"/>
<text x="34.90" y="377.57" font-size="8.30" text-anchor="end" fill="#1e1e1e">2.0</text>
<line x1="35.40" y1="361.50" x2="37.40" y2="361.50" stroke="#a8a8a8" stroke-width="0.9"/>
<text x="34.90" y="363.37" font-size="8.30" text-anchor="end" fill="#1e1e1e">2.5</text>
<line x1="37.40" y1="432.50" x2="102.10" y2="432.50" stroke="#7a7a7a" stroke-width="1.8"/>
<line x1="54.50" y1="373.75" x2="54.50" y2="381.30" stroke="#c8c8c8" stroke-width="1"/>
<line x1="54.50" y1="407.20" x2="54.50" y2="430.30" stroke="#c8c8c8" stroke-width="1"/>
<line x1="50.50" y1="373.75" x2="58.50" y2="373.75" stroke="#c8c8c8" stroke-width="1.2"/>
<line x1="48.75" y1="430.30" x2="60.25" y2="430.30" stroke="#c8c8c8" stroke-width="1.2"/>
<rect x="43.70" y="381.30" width="21.60" height="25.90" fill="none" stroke="#c8c8c8" stroke-width="1.2"/>
<line x1="43.70" y1="403.75" x2="65.30" y2="403.75" stroke="#c8c8c8" stroke-width="1.2"/>
<circle cx="53.10" cy="374.00" r="1.3" fill="#111"/>
<circle cx="55.70" cy="378.10" r="1.3" fill="#111"/>
<circle cx="54.50" cy="384.60" r="1.3" fill="#111"/>
<circle cx="54.50" cy="398.00" r="1.3" fill="#111"/>
<circle cx="52.40" cy="404.30" r="1.3" fill="#111"/>
<circle cx="54.50" cy="404.00" r="1.3" fill="#111"/>
<circle cx="53.80" cy="406.60" r="1.3" fill="#111"/>
<circle cx="55.70" cy="408.70" r="1.3" fill="#111"/>
<circle cx="54.50" cy="430.70" r="1.3" fill="#111"/>
<line x1="86.60" y1="412.00" x2="86.60" y2="415.30" stroke="#c8c8c8" stroke-width="1"/>
<line x1="86.60" y1="426.40" x2="86.60" y2="431.20" stroke="#c8c8c8" stroke-width="1"/>
<line x1="82.25" y1="412.00" x2="90.95" y2="412.00" stroke="#c8c8c8" stroke-width="1.2"/>
<line x1="82.25" y1="431.20" x2="90.95" y2="431.20" stroke="#c8c8c8" stroke-width="1.2"/>
<rect x="75.40" y="415.30" width="22.40" height="11.10" fill="none" stroke="#c8c8c8" stroke-width="1.2"/>
<line x1="75.40" y1="421.00" x2="97.80" y2="421.00" stroke="#c8c8c8" stroke-width="1.2"/>
<circle cx="83.40" cy="413.40" r="1.3" fill="#111"/>
<circle cx="88.80" cy="412.00" r="1.3" fill="#111"/>
<circle cx="86.30" cy="415.60" r="1.3" fill="#111"/>
<circle cx="81.20" cy="417.30" r="1.3" fill="#111"/>
<circle cx="83.70" cy="421.10" r="1.3" fill="#111"/>
<circle cx="86.30" cy="421.10" r="1.3" fill="#111"/>
<circle cx="89.10" cy="421.10" r="1.3" fill="#111"/>
<circle cx="91.70" cy="421.10" r="1.3" fill="#111"/>
<circle cx="87.70" cy="426.00" r="1.3" fill="#111"/>
<circle cx="87.40" cy="428.60" r="1.3" fill="#111"/>
<circle cx="85.50" cy="431.20" r="1.3" fill="#111"/>
<text x="54.80" y="370.02" font-size="9.00" text-anchor="middle" fill="#1e1e1e">(1)</text>
<text x="87.00" y="406.02" font-size="9.00" text-anchor="middle" fill="#1e1e1e">(2)</text>
<text transform="translate(6.30,421.80) rotate(-90)" x="0" y="0" font-size="8.22" text-anchor="start" fill="#1e1e1e">Density of FLNA</text>
<text transform="translate(17.20,422.70) rotate(-90)" x="0" y="0" font-size="8.30" text-anchor="start" fill="#1e1e1e">cleavage product</text>
<text x="13.90" y="445.94" font-size="8.20" text-anchor="start" fill="#1e1e1e">p-Akt:</text>
<text x="54.50" y="446.08" font-size="8.60" text-anchor="middle" fill="#1e1e1e">Low</text>
<text x="88.00" y="446.08" font-size="8.60" text-anchor="middle" fill="#1e1e1e">High</text>
<text x="151.00" y="351.30" font-size="11.00" text-anchor="start" font-weight="bold" fill="#1e1e1e">D</text>
<text x="204.50" y="353.03" font-size="8.45" text-anchor="start" fill="#1e1e1e">p &lt; 0.005</text>
<line x1="201.80" y1="361.40" x2="201.80" y2="432.90" stroke="#a8a8a8" stroke-width="0.9"/>
<line x1="199.80" y1="432.90" x2="201.80" y2="432.90" stroke="#a8a8a8" stroke-width="0.9"/>
<text x="199.20" y="434.77" font-size="8.30" text-anchor="end" fill="#1e1e1e">0</text>
<line x1="199.80" y1="418.60" x2="201.80" y2="418.60" stroke="#a8a8a8" stroke-width="0.9"/>
<text x="199.20" y="420.47" font-size="8.30" text-anchor="end" fill="#1e1e1e">10</text>
<line x1="199.80" y1="404.30" x2="201.80" y2="404.30" stroke="#a8a8a8" stroke-width="0.9"/>
<text x="199.20" y="406.17" font-size="8.30" text-anchor="end" fill="#1e1e1e">20</text>
<line x1="199.80" y1="390.00" x2="201.80" y2="390.00" stroke="#a8a8a8" stroke-width="0.9"/>
<text x="199.20" y="391.87" font-size="8.30" text-anchor="end" fill="#1e1e1e">30</text>
<line x1="199.80" y1="375.70" x2="201.80" y2="375.70" stroke="#a8a8a8" stroke-width="0.9"/>
<text x="199.20" y="377.57" font-size="8.30" text-anchor="end" fill="#1e1e1e">40</text>
<line x1="199.80" y1="361.40" x2="201.80" y2="361.40" stroke="#a8a8a8" stroke-width="0.9"/>
<text x="199.20" y="363.27" font-size="8.30" text-anchor="end" fill="#1e1e1e">50</text>
<line x1="201.80" y1="432.90" x2="258.00" y2="432.90" stroke="#7a7a7a" stroke-width="1.8"/>
<line x1="216.20" y1="401.60" x2="216.20" y2="408.40" stroke="#c8c8c8" stroke-width="1"/>
<line x1="216.20" y1="422.50" x2="216.20" y2="429.40" stroke="#c8c8c8" stroke-width="1"/>
<line x1="211.70" y1="401.60" x2="220.70" y2="401.60" stroke="#c8c8c8" stroke-width="1.2"/>
<line x1="211.70" y1="429.40" x2="220.70" y2="429.40" stroke="#c8c8c8" stroke-width="1.2"/>
<rect x="206.90" y="408.40" width="18.60" height="14.10" fill="none" stroke="#c8c8c8" stroke-width="1.2"/>
<line x1="206.90" y1="415.30" x2="225.50" y2="415.30" stroke="#c8c8c8" stroke-width="1.2"/>
<circle cx="216.50" cy="401.60" r="1.3" fill="#111"/>
<circle cx="217.20" cy="407.00" r="1.3" fill="#111"/>
<circle cx="213.60" cy="409.30" r="1.3" fill="#111"/>
<circle cx="215.00" cy="412.40" r="1.3" fill="#111"/>
<circle cx="217.20" cy="415.30" r="1.3" fill="#111"/>
<circle cx="215.50" cy="419.90" r="1.3" fill="#111"/>
<circle cx="216.10" cy="421.00" r="1.3" fill="#111"/>
<circle cx="217.00" cy="424.60" r="1.3" fill="#111"/>
<circle cx="216.10" cy="429.60" r="1.3" fill="#111"/>
<line x1="244.25" y1="370.80" x2="244.25" y2="382.30" stroke="#c8c8c8" stroke-width="1"/>
<line x1="244.25" y1="412.10" x2="244.25" y2="419.60" stroke="#c8c8c8" stroke-width="1"/>
<line x1="239.25" y1="370.80" x2="249.25" y2="370.80" stroke="#c8c8c8" stroke-width="1.2"/>
<line x1="240.25" y1="419.60" x2="248.25" y2="419.60" stroke="#c8c8c8" stroke-width="1.2"/>
<rect x="234.70" y="382.30" width="19.10" height="29.80" fill="none" stroke="#c8c8c8" stroke-width="1.2"/>
<line x1="234.70" y1="392.60" x2="253.80" y2="392.60" stroke="#c8c8c8" stroke-width="1.2"/>
<circle cx="244.20" cy="370.80" r="1.3" fill="#111"/>
<circle cx="244.50" cy="376.20" r="1.3" fill="#111"/>
<circle cx="244.20" cy="381.60" r="1.3" fill="#111"/>
<circle cx="245.60" cy="385.90" r="1.3" fill="#111"/>
<circle cx="241.60" cy="388.00" r="1.3" fill="#111"/>
<circle cx="243.00" cy="390.20" r="1.3" fill="#111"/>
<circle cx="245.20" cy="393.80" r="1.3" fill="#111"/>
<circle cx="244.20" cy="401.60" r="1.3" fill="#111"/>
<circle cx="243.00" cy="409.30" r="1.3" fill="#111"/>
<circle cx="245.20" cy="413.10" r="1.3" fill="#111"/>
<circle cx="243.80" cy="419.30" r="1.3" fill="#111"/>
<text x="216.00" y="397.92" font-size="9.00" text-anchor="middle" fill="#1e1e1e">(1)</text>
<text x="244.50" y="367.02" font-size="9.00" text-anchor="middle" fill="#1e1e1e">(2)</text>
<text transform="translate(171.60,447.90) rotate(-90)" x="0" y="0" font-size="8.49" text-anchor="start" fill="#1e1e1e">5'ETS pre-rRNA abundance</text>
<text transform="translate(182.30,431.40) rotate(-90)" x="0" y="0" font-size="8.36" text-anchor="start" fill="#1e1e1e">(relative to GAPDH)</text>
<text x="178.80" y="447.11" font-size="8.70" text-anchor="start" fill="#1e1e1e">p-Akt:</text>
<text x="216.25" y="447.08" font-size="8.60" text-anchor="middle" fill="#1e1e1e">Low</text>
<text x="243.75" y="447.08" font-size="8.60" text-anchor="middle" fill="#1e1e1e">High</text>
<text x="266.10" y="358.33" font-size="8.20" text-anchor="start" fill="#1e1e1e">(1)</text>
<text x="278.80" y="358.60" font-size="8.93" text-anchor="start" fill="#1e1e1e">(2)</text>
<rect x="262.00" y="362.20" width="31.30" height="70.60" fill="url(#gelD)" />
<rect x="267.50" y="370.05" width="10.00" height="6.50" rx="2.50" fill="#151515" opacity="1" filter="url(#b1)"/>
<rect x="278.15" y="369.80" width="10.50" height="7.00" rx="2.62" fill="#0a0a0a" opacity="1" filter="url(#b1)"/>
<rect x="278.90" y="377.00" width="9.00" height="16.00" rx="2.25" fill="#8e8e8e" opacity="1" filter="url(#b15)"/>
<rect x="268.50" y="382.50" width="8.00" height="3.00" rx="1.50" fill="#9c9c9c" opacity="1" filter="url(#b1)"/>
<rect x="268.00" y="396.65" width="9.00" height="3.50" rx="1.75" fill="#9a9a9a" opacity="1" filter="url(#b1)"/>
<rect x="278.90" y="396.65" width="9.00" height="3.50" rx="1.75" fill="#828282" opacity="1" filter="url(#b1)"/>
<rect x="268.00" y="417.15" width="9.00" height="3.50" rx="1.75" fill="#8a8a8a" opacity="1" filter="url(#b1)"/>
<rect x="278.90" y="417.15" width="9.00" height="3.50" rx="1.75" fill="#5c5c5c" opacity="1" filter="url(#b1)"/>
<rect x="262.00" y="433.70" width="31.30" height="15.40" fill="#262626" />
<rect x="264.75" y="435.15" width="13.50" height="12.50" rx="3.38" fill="#4a4a4a" opacity="1" filter="url(#b06)"/>
<rect x="265.25" y="436.90" width="12.50" height="2.60" rx="1.30" fill="#b4b4b4" opacity="1" filter="url(#b06)"/>
<rect x="265.25" y="443.50" width="12.50" height="2.20" rx="1.10" fill="#7a7a7a" opacity="1" filter="url(#b06)"/>
<rect x="280.50" y="435.15" width="11.00" height="12.50" rx="2.75" fill="#4a4a4a" opacity="1" filter="url(#b06)"/>
<rect x="281.00" y="436.90" width="10.00" height="2.60" rx="1.30" fill="#b4b4b4" opacity="1" filter="url(#b06)"/>
<rect x="281.00" y="443.50" width="10.00" height="2.20" rx="1.10" fill="#7a7a7a" opacity="1" filter="url(#b06)"/>
<text x="296.80" y="373.26" font-size="8.54" text-anchor="start" fill="#1e1e1e">45S</text>
<text x="296.80" y="385.26" font-size="8.54" text-anchor="start" fill="#1e1e1e">32S</text>
<text x="296.80" y="402.46" font-size="8.54" text-anchor="start" fill="#1e1e1e">28S</text>
<text x="296.80" y="422.26" font-size="8.54" text-anchor="start" fill="#1e1e1e">18S</text>
<text x="296.80" y="440.04" font-size="9.05" text-anchor="start" fill="#1e1e1e">28S EtBr</text>
<text x="296.80" y="448.14" font-size="9.05" text-anchor="start" fill="#1e1e1e">18S EtBr</text>
<text x="377.80" y="352.33" font-size="8.46" text-anchor="start" fill="#1e1e1e">p &lt; 0.02</text>
<line x1="372.30" y1="361.20" x2="372.30" y2="432.80" stroke="#a8a8a8" stroke-width="0.9"/>
<line x1="370.30" y1="432.80" x2="372.30" y2="432.80" stroke="#a8a8a8" stroke-width="0.9"/>
<text x="370.30" y="434.85" font-size="8.80" text-anchor="end" fill="#1e1e1e">0</text>
<line x1="370.30" y1="408.93" x2="372.30" y2="408.93" stroke="#a8a8a8" stroke-width="0.9"/>
<text x="370.30" y="410.98" font-size="8.80" text-anchor="end" fill="#1e1e1e">20</text>
<line x1="370.30" y1="385.07" x2="372.30" y2="385.07" stroke="#a8a8a8" stroke-width="0.9"/>
<text x="370.30" y="387.12" font-size="8.80" text-anchor="end" fill="#1e1e1e">40</text>
<line x1="370.30" y1="361.20" x2="372.30" y2="361.20" stroke="#a8a8a8" stroke-width="0.9"/>
<text x="370.30" y="363.25" font-size="8.80" text-anchor="end" fill="#1e1e1e">60</text>
<line x1="372.30" y1="432.80" x2="420.70" y2="432.80" stroke="#7a7a7a" stroke-width="1.8"/>
<line x1="385.75" y1="395.90" x2="385.75" y2="399.90" stroke="#c8c8c8" stroke-width="1"/>
<line x1="385.75" y1="419.60" x2="385.75" y2="424.00" stroke="#c8c8c8" stroke-width="1"/>
<line x1="381.75" y1="395.90" x2="389.75" y2="395.90" stroke="#c8c8c8" stroke-width="1.2"/>
<line x1="381.75" y1="424.00" x2="389.75" y2="424.00" stroke="#c8c8c8" stroke-width="1.2"/>
<rect x="376.70" y="399.90" width="18.10" height="19.70" fill="none" stroke="#c8c8c8" stroke-width="1.2"/>
<line x1="376.70" y1="413.50" x2="394.80" y2="413.50" stroke="#c8c8c8" stroke-width="1.2"/>
<circle cx="384.50" cy="395.90" r="1.3" fill="#111"/>
<circle cx="388.00" cy="397.50" r="1.3" fill="#111"/>
<circle cx="386.50" cy="400.50" r="1.3" fill="#111"/>
<circle cx="385.00" cy="406.00" r="1.3" fill="#111"/>
<circle cx="384.00" cy="413.50" r="1.3" fill="#111"/>
<circle cx="387.00" cy="416.00" r="1.3" fill="#111"/>
<circle cx="388.00" cy="419.00" r="1.3" fill="#111"/>
<circle cx="386.00" cy="422.00" r="1.3" fill="#111"/>
<circle cx="385.00" cy="424.00" r="1.3" fill="#111"/>
<line x1="410.80" y1="366.20" x2="410.80" y2="383.20" stroke="#c8c8c8" stroke-width="1"/>
<line x1="410.80" y1="406.40" x2="410.80" y2="417.40" stroke="#c8c8c8" stroke-width="1"/>
<line x1="406.30" y1="366.20" x2="415.30" y2="366.20" stroke="#c8c8c8" stroke-width="1.2"/>
<line x1="406.80" y1="417.40" x2="414.80" y2="417.40" stroke="#c8c8c8" stroke-width="1.2"/>
<rect x="402.00" y="383.20" width="17.60" height="23.20" fill="none" stroke="#c8c8c8" stroke-width="1.2"/>
<line x1="402.00" y1="396.30" x2="419.60" y2="396.30" stroke="#c8c8c8" stroke-width="1.2"/>
<circle cx="410.50" cy="366.20" r="1.3" fill="#111"/>
<circle cx="411.50" cy="366.20" r="1.3" fill="#111"/>
<circle cx="410.00" cy="382.00" r="1.3" fill="#111"/>
<circle cx="411.50" cy="386.00" r="1.3" fill="#111"/>
<circle cx="410.50" cy="391.00" r="1.3" fill="#111"/>
<circle cx="409.00" cy="396.00" r="1.3" fill="#111"/>
<circle cx="412.00" cy="397.00" r="1.3" fill="#111"/>
<circle cx="410.50" cy="400.00" r="1.3" fill="#111"/>
<circle cx="409.50" cy="405.50" r="1.3" fill="#111"/>
<circle cx="411.50" cy="408.00" r="1.3" fill="#111"/>
<circle cx="410.50" cy="417.40" r="1.3" fill="#111"/>
<text x="386.60" y="392.52" font-size="9.00" text-anchor="middle" fill="#1e1e1e">(1)</text>
<text x="410.80" y="361.72" font-size="9.00" text-anchor="middle" fill="#1e1e1e">(2)</text>
<text transform="translate(345.40,417.90) rotate(-90)" x="0" y="0" font-size="8.35" text-anchor="start" fill="#1e1e1e">Occupancy</text>
<text transform="translate(357.00,427.80) rotate(-90)" x="0" y="0" font-size="8.12" text-anchor="start" fill="#1e1e1e">(relative to input)</text>
<text x="349.00" y="445.05" font-size="8.81" text-anchor="start" fill="#1e1e1e">p-Akt:</text>
<text x="385.50" y="444.98" font-size="8.60" text-anchor="middle" fill="#1e1e1e">Low</text>
<text x="412.50" y="444.98" font-size="8.60" text-anchor="middle" fill="#1e1e1e">High</text>
<rect x="433.5" y="347.5" width="84.5" height="102" rx="7" fill="none" stroke="#eeeeee" stroke-width="1"/>
<text x="474.30" y="354.44" font-size="8.49" text-anchor="start" fill="#1e1e1e">*p &lt; 0.01</text>
<line x1="474.30" y1="359.50" x2="474.30" y2="431.50" stroke="#a8a8a8" stroke-width="0.9"/>
<line x1="472.30" y1="431.50" x2="474.30" y2="431.50" stroke="#a8a8a8" stroke-width="0.9"/>
<text x="469.40" y="433.36" font-size="8.27" text-anchor="end" fill="#1e1e1e">0</text>
<line x1="472.30" y1="419.50" x2="474.30" y2="419.50" stroke="#a8a8a8" stroke-width="0.9"/>
<text x="469.40" y="421.36" font-size="8.27" text-anchor="end" fill="#1e1e1e">0.5</text>
<line x1="472.30" y1="407.50" x2="474.30" y2="407.50" stroke="#a8a8a8" stroke-width="0.9"/>
<text x="469.40" y="409.36" font-size="8.27" text-anchor="end" fill="#1e1e1e">1.0</text>
<line x1="472.30" y1="395.50" x2="474.30" y2="395.50" stroke="#a8a8a8" stroke-width="0.9"/>
<text x="469.40" y="397.36" font-size="8.27" text-anchor="end" fill="#1e1e1e">1.5</text>
<line x1="472.30" y1="383.50" x2="474.30" y2="383.50" stroke="#a8a8a8" stroke-width="0.9"/>
<text x="469.40" y="385.36" font-size="8.27" text-anchor="end" fill="#1e1e1e">2.0</text>
<line x1="472.30" y1="371.50" x2="474.30" y2="371.50" stroke="#a8a8a8" stroke-width="0.9"/>
<text x="469.40" y="373.36" font-size="8.27" text-anchor="end" fill="#1e1e1e">2.5</text>
<line x1="472.30" y1="359.50" x2="474.30" y2="359.50" stroke="#a8a8a8" stroke-width="0.9"/>
<text x="469.40" y="361.36" font-size="8.27" text-anchor="end" fill="#1e1e1e">3.0</text>
<line x1="474.30" y1="431.50" x2="517.70" y2="431.50" stroke="#a8a8a8" stroke-width="0.9"/>
<rect x="479.60" y="408.50" width="10.90" height="23.00" fill="#5d7abb" />
<line x1="485.05" y1="408.50" x2="485.05" y2="404.30" stroke="#808080" stroke-width="0.75"/>
<line x1="483.85" y1="404.30" x2="486.25" y2="404.30" stroke="#808080" stroke-width="0.75"/>
<rect x="502.00" y="375.70" width="10.60" height="55.80" fill="#5d7abb" />
<line x1="507.30" y1="375.70" x2="507.30" y2="372.00" stroke="#808080" stroke-width="0.75"/>
<line x1="506.10" y1="372.00" x2="508.50" y2="372.00" stroke="#808080" stroke-width="0.75"/>
<polyline points="485.90,403.40 485.90,369.80 507.60,369.80" fill="none" stroke="#444" stroke-width="1.6"/>
<text x="496.80" y="373.00" font-size="15.00" text-anchor="middle" font-weight="bold" fill="#1e1e1e">*</text>
<text transform="translate(441.50,422.30) rotate(-90)" x="0" y="0" font-size="8.24" text-anchor="start" fill="#1e1e1e">OD absorbance</text>
<text transform="translate(450.90,423.50) rotate(-90)" x="0" y="0" font-size="8.50" text-anchor="start" fill="#1e1e1e">(fold difference)</text>
<text x="451.20" y="445.26" font-size="9.39" text-anchor="start" fill="#1e1e1e">p-Akt:</text>
<text x="485.90" y="444.98" font-size="8.60" text-anchor="middle" fill="#1e1e1e">Low</text>
<text x="508.00" y="444.98" font-size="8.60" text-anchor="middle" fill="#1e1e1e">High</text>
<text x="1.25" y="471.30" font-size="11.00" text-anchor="start" font-weight="bold" fill="#1e1e1e">E</text>
<text transform="translate(25.55,504.50) rotate(-90)" x="0" y="0" font-size="8.53" text-anchor="start" fill="#1e1e1e">Control</text>
<text x="27.00" y="486.20" font-size="8.25" text-anchor="start" fill="#1e1e1e">Akt-WT</text>
<line x1="29.50" y1="489.50" x2="54.50" y2="489.50" stroke="#1e1e1e" stroke-width="1.2"/>
<text x="59.50" y="486.37" font-size="8.71" text-anchor="start" fill="#1e1e1e">Akt-Myr</text>
<line x1="58.00" y1="489.50" x2="87.50" y2="489.50" stroke="#1e1e1e" stroke-width="1.2"/>
<text x="36.25" y="502.40" font-size="9.50" text-anchor="middle" fill="#1e1e1e">-</text>
<text x="49.50" y="502.40" font-size="9.50" text-anchor="middle" fill="#1e1e1e">+</text>
<text x="61.25" y="502.40" font-size="9.50" text-anchor="middle" fill="#1e1e1e">-</text>
<text x="73.75" y="502.40" font-size="9.50" text-anchor="middle" fill="#1e1e1e">+</text>
<text x="83.75" y="500.28" font-size="9.17" text-anchor="start" fill="#1e1e1e">AZD8055</text>
<rect x="16.20" y="507.20" width="64.90" height="14.00" fill="#c0c0c0" />
<rect x="18.80" y="510.25" width="10.00" height="2.50" rx="1.25" fill="#505050" opacity="1" filter="url(#b06)"/>
<rect x="18.80" y="514.15" width="10.00" height="2.50" rx="1.25" fill="#6a6a6a" opacity="1" filter="url(#b06)"/>
<rect x="31.40" y="510.00" width="11.00" height="3.00" rx="1.50" fill="#2a2a2a" opacity="1" filter="url(#b06)"/>
<rect x="43.70" y="509.30" width="11.00" height="3.00" rx="1.50" fill="#2a2a2a" opacity="1" filter="url(#b06)"/>
<rect x="43.70" y="513.85" width="11.00" height="3.50" rx="1.75" fill="#2a2a2a" opacity="1" filter="url(#b06)"/>
<rect x="55.05" y="508.25" width="11.50" height="5.50" rx="2.75" fill="#1e1e1e" opacity="1" filter="url(#b06)"/>
<rect x="67.60" y="509.05" width="11.00" height="4.50" rx="2.25" fill="#262626" opacity="1" filter="url(#b06)"/>
<rect x="16.20" y="523.00" width="64.90" height="13.60" fill="#c8c8c8" />
<rect x="31.15" y="526.85" width="11.50" height="5.50" rx="2.75" fill="#262626" opacity="1" filter="url(#b06)"/>
<rect x="43.45" y="526.85" width="11.50" height="5.50" rx="2.75" fill="#262626" opacity="1" filter="url(#b06)"/>
<rect x="55.05" y="526.85" width="11.50" height="5.50" rx="2.75" fill="#262626" opacity="1" filter="url(#b06)"/>
<rect x="67.35" y="526.85" width="11.50" height="5.50" rx="2.75" fill="#262626" opacity="1" filter="url(#b06)"/>
<rect x="16.20" y="538.50" width="64.90" height="14.10" fill="#c4c4c4" />
<rect x="19.30" y="544.15" width="9.00" height="2.50" rx="1.25" fill="#b4b4b4" opacity="1" filter="url(#b1)"/>
<rect x="31.90" y="543.65" width="10.00" height="3.50" rx="1.75" fill="#8a8a8a" opacity="1" filter="url(#b1)"/>
<rect x="55.30" y="542.50" width="11.00" height="5.00" rx="2.50" fill="#5e5e5e" opacity="1" filter="url(#b06)"/>
<rect x="67.60" y="542.90" width="11.00" height="5.00" rx="2.50" fill="#6a6a6a" opacity="1" filter="url(#b06)"/>
<rect x="16.20" y="553.80" width="64.90" height="13.90" fill="#c2c2c2" />
<rect x="19.30" y="557.50" width="9.00" height="2.00" rx="1.00" fill="#a4a4a4" opacity="1" filter="url(#b1)"/>
<rect x="19.30" y="561.80" width="9.00" height="2.00" rx="1.00" fill="#a8a8a8" opacity="1" filter="url(#b1)"/>
<rect x="31.90" y="557.25" width="10.00" height="2.50" rx="1.25" fill="#7a7a7a" opacity="1" filter="url(#b06)"/>
<rect x="31.90" y="561.55" width="10.00" height="2.50" rx="1.25" fill="#4a4a4a" opacity="1" filter="url(#b06)"/>
<rect x="45.20" y="562.00" width="8.00" height="2.00" rx="1.00" fill="#b0b0b0" opacity="1" filter="url(#b1)"/>
<rect x="55.30" y="557.00" width="11.00" height="3.00" rx="1.50" fill="#3a3a3a" opacity="1" filter="url(#b06)"/>
<rect x="55.30" y="561.30" width="11.00" height="3.00" rx="1.50" fill="#2a2a2a" opacity="1" filter="url(#b06)"/>
<rect x="67.60" y="557.00" width="11.00" height="3.00" rx="1.50" fill="#3a3a3a" opacity="1" filter="url(#b06)"/>
<rect x="67.60" y="561.30" width="11.00" height="3.00" rx="1.50" fill="#2a2a2a" opacity="1" filter="url(#b06)"/>
<rect x="16.20" y="569.20" width="64.90" height="14.60" fill="#c4c4c4" />
<rect x="18.05" y="573.90" width="11.50" height="5.00" rx="2.50" fill="#2a2a2a" opacity="1" filter="url(#b06)"/>
<rect x="31.15" y="573.90" width="11.50" height="5.00" rx="2.50" fill="#2a2a2a" opacity="1" filter="url(#b06)"/>
<rect x="43.45" y="573.90" width="11.50" height="5.00" rx="2.50" fill="#2a2a2a" opacity="1" filter="url(#b06)"/>
<rect x="55.05" y="573.90" width="11.50" height="5.00" rx="2.50" fill="#2a2a2a" opacity="1" filter="url(#b06)"/>
<rect x="67.35" y="573.90" width="11.50" height="5.00" rx="2.50" fill="#2a2a2a" opacity="1" filter="url(#b06)"/>
<path d="M90.6,510.9 L86,510.9" stroke="#1e1e1e" stroke-width="1.1" fill="none"/><path d="M83.2,510.9 L87.4,509.0 L87.4,512.8 Z" fill="#1e1e1e"/>
<path d="M90.6,518.1 L86,518.1" stroke="#1e1e1e" stroke-width="1.1" fill="none"/><path d="M83.2,518.1 L87.4,516.2 L87.4,520.0 Z" fill="#1e1e1e"/>
<text x="95.40" y="512.92" font-size="7.04" text-anchor="start" fill="#1e1e1e">FL</text>
<text x="95.40" y="520.33" font-size="7.63" text-anchor="start" fill="#1e1e1e">CP</text>
<line x1="112.70" y1="507.50" x2="112.70" y2="521.90" stroke="#1e1e1e" stroke-width="1.1"/>
<text transform="translate(119.40,513.75) rotate(90)" x="0" y="0" font-size="8.60" text-anchor="middle" fill="#1e1e1e">FLNA</text>
<text x="82.50" y="533.26" font-size="9.10" text-anchor="start" fill="#1e1e1e">IB: HA-Akt</text>
<text x="82.50" y="549.01" font-size="9.10" text-anchor="start" fill="#1e1e1e">IB: p-Akt</text>
<text x="82.50" y="562.76" font-size="9.10" text-anchor="start" fill="#1e1e1e">IB: p-GSK3</text>
<text x="82.50" y="579.76" font-size="9.10" text-anchor="start" fill="#1e1e1e">IB: Actin</text>
<text x="213.50" y="472.64" font-size="8.21" text-anchor="start" fill="#1e1e1e">*p &lt; 0.01</text>
<text x="209.10" y="482.05" font-size="8.80" text-anchor="start" fill="#1e1e1e">**p &lt; 0.05</text>
<line x1="205.90" y1="479.30" x2="205.90" y2="559.70" stroke="#a8a8a8" stroke-width="0.9"/>
<line x1="203.90" y1="559.70" x2="205.90" y2="559.70" stroke="#a8a8a8" stroke-width="0.9"/>
<text x="202.20" y="561.89" font-size="9.20" text-anchor="end" fill="#1e1e1e">0</text>
<line x1="203.90" y1="549.65" x2="205.90" y2="549.65" stroke="#a8a8a8" stroke-width="0.9"/>
<text x="202.20" y="551.84" font-size="9.20" text-anchor="end" fill="#1e1e1e">0.5</text>
<line x1="203.90" y1="539.60" x2="205.90" y2="539.60" stroke="#a8a8a8" stroke-width="0.9"/>
<text x="202.20" y="541.79" font-size="9.20" text-anchor="end" fill="#1e1e1e">1.0</text>
<line x1="203.90" y1="529.55" x2="205.90" y2="529.55" stroke="#a8a8a8" stroke-width="0.9"/>
<text x="202.20" y="531.74" font-size="9.20" text-anchor="end" fill="#1e1e1e">1.5</text>
<line x1="203.90" y1="519.50" x2="205.90" y2="519.50" stroke="#a8a8a8" stroke-width="0.9"/>
<text x="202.20" y="521.69" font-size="9.20" text-anchor="end" fill="#1e1e1e">2.0</text>
<line x1="203.90" y1="509.45" x2="205.90" y2="509.45" stroke="#a8a8a8" stroke-width="0.9"/>
<text x="202.20" y="511.64" font-size="9.20" text-anchor="end" fill="#1e1e1e">2.5</text>
<line x1="203.90" y1="499.40" x2="205.90" y2="499.40" stroke="#a8a8a8" stroke-width="0.9"/>
<text x="202.20" y="501.59" font-size="9.20" text-anchor="end" fill="#1e1e1e">3.0</text>
<line x1="203.90" y1="489.35" x2="205.90" y2="489.35" stroke="#a8a8a8" stroke-width="0.9"/>
<text x="202.20" y="491.54" font-size="9.20" text-anchor="end" fill="#1e1e1e">3.5</text>
<line x1="203.90" y1="479.30" x2="205.90" y2="479.30" stroke="#a8a8a8" stroke-width="0.9"/>
<text x="202.20" y="481.49" font-size="9.20" text-anchor="end" fill="#1e1e1e">4.0</text>
<line x1="205.90" y1="559.70" x2="275.00" y2="559.70" stroke="#a8a8a8" stroke-width="0.9"/>
<rect x="209.10" y="539.60" width="6.50" height="20.10" fill="#5d7abb" />
<line x1="212.35" y1="539.60" x2="212.35" y2="537.59" stroke="#808080" stroke-width="0.75"/>
<line x1="211.15" y1="537.59" x2="213.55" y2="537.59" stroke="#808080" stroke-width="0.75"/>
<rect x="223.70" y="519.50" width="6.50" height="40.20" fill="#5d7abb" />
<line x1="226.95" y1="519.50" x2="226.95" y2="514.48" stroke="#808080" stroke-width="0.75"/>
<line x1="225.75" y1="514.48" x2="228.15" y2="514.48" stroke="#808080" stroke-width="0.75"/>
<rect x="237.10" y="538.60" width="6.60" height="21.11" fill="#5d7abb" />
<line x1="240.40" y1="538.60" x2="240.40" y2="534.58" stroke="#808080" stroke-width="0.75"/>
<line x1="239.20" y1="534.58" x2="241.60" y2="534.58" stroke="#808080" stroke-width="0.75"/>
<rect x="251.80" y="495.38" width="6.40" height="64.32" fill="#5d7abb" />
<line x1="255.00" y1="495.38" x2="255.00" y2="489.35" stroke="#808080" stroke-width="0.75"/>
<line x1="253.80" y1="489.35" x2="256.20" y2="489.35" stroke="#808080" stroke-width="0.75"/>
<rect x="264.80" y="512.47" width="6.30" height="47.24" fill="#5d7abb" />
<line x1="267.95" y1="512.47" x2="267.95" y2="504.43" stroke="#808080" stroke-width="0.75"/>
<line x1="266.75" y1="504.43" x2="269.15" y2="504.43" stroke="#808080" stroke-width="0.75"/>
<polyline points="227.30,510.70 240.90,510.70 240.90,532.20" fill="none" stroke="#222" stroke-width="1.6"/>
<text x="234.20" y="512.80" font-size="15.00" text-anchor="middle" font-weight="bold" fill="#1e1e1e">*</text>
<polyline points="255.30,486.00 268.80,486.00 268.80,503.40" fill="none" stroke="#222" stroke-width="1.6"/>
<text x="258.90" y="489.10" font-size="15.00" text-anchor="middle" font-weight="bold" fill="#1e1e1e">*</text>
<text x="265.80" y="489.10" font-size="15.00" text-anchor="middle" font-weight="bold" fill="#1e1e1e">*</text>
<text transform="translate(215.29,590.60) rotate(-90)" x="0" y="0" font-size="8.62" text-anchor="start" fill="#1e1e1e">Control</text>
<text x="226.20" y="571.40" font-size="9.50" text-anchor="middle" fill="#1e1e1e">-</text>
<text x="240.00" y="571.40" font-size="9.50" text-anchor="middle" fill="#1e1e1e">+</text>
<text x="255.30" y="571.40" font-size="9.50" text-anchor="middle" fill="#1e1e1e">-</text>
<text x="268.80" y="571.40" font-size="9.50" text-anchor="middle" fill="#1e1e1e">+</text>
<line x1="221.00" y1="575.00" x2="246.60" y2="575.00" stroke="#1e1e1e" stroke-width="1.2"/>
<line x1="249.50" y1="575.20" x2="274.40" y2="575.20" stroke="#1e1e1e" stroke-width="1.2"/>
<text x="219.80" y="584.33" font-size="8.46" text-anchor="start" fill="#1e1e1e">Akt-WT</text>
<text x="248.00" y="584.46" font-size="8.82" text-anchor="start" fill="#1e1e1e">Akt-Myr</text>
<text x="278.30" y="564.01" font-size="8.40" text-anchor="start" fill="#1e1e1e">AZD</text>
<text x="277.30" y="574.77" font-size="8.85" text-anchor="start" fill="#1e1e1e">8055</text>
<text transform="translate(174.20,565.80) rotate(-90)" x="0" y="0" font-size="7.93" text-anchor="start" fill="#1e1e1e">5'ETS pre-rRNA abundance</text>
<text transform="translate(183.30,557.00) rotate(-90)" x="0" y="0" font-size="8.52" text-anchor="start" fill="#1e1e1e">(relative to GAPDH)</text>
<rect x="377.60" y="464.80" width="4.00" height="4.00" fill="#5d7abb" />
<text x="384.30" y="469.70" font-size="10.05" text-anchor="start" fill="#1e1e1e">OD absorbance</text>
<rect x="377.60" y="485.90" width="4.00" height="4.00" fill="#7a9440" />
<text x="384.30" y="490.90" font-size="10.33" text-anchor="start" fill="#1e1e1e">Colonies</text>
<text x="454.00" y="485.69" font-size="8.64" text-anchor="start" fill="#1e1e1e">*p &lt; 0.01</text>
<line x1="369.20" y1="480.70" x2="369.20" y2="558.40" stroke="#a8a8a8" stroke-width="0.9"/>
<line x1="367.20" y1="558.40" x2="369.20" y2="558.40" stroke="#a8a8a8" stroke-width="0.9"/>
<text x="366.80" y="560.59" font-size="9.20" text-anchor="end" fill="#1e1e1e">0</text>
<line x1="367.20" y1="545.45" x2="369.20" y2="545.45" stroke="#a8a8a8" stroke-width="0.9"/>
<text x="366.80" y="547.64" font-size="9.20" text-anchor="end" fill="#1e1e1e">0.5</text>
<line x1="367.20" y1="532.50" x2="369.20" y2="532.50" stroke="#a8a8a8" stroke-width="0.9"/>
<text x="366.80" y="534.69" font-size="9.20" text-anchor="end" fill="#1e1e1e">1.0</text>
<line x1="367.20" y1="519.55" x2="369.20" y2="519.55" stroke="#a8a8a8" stroke-width="0.9"/>
<text x="366.80" y="521.74" font-size="9.20" text-anchor="end" fill="#1e1e1e">1.5</text>
<line x1="367.20" y1="506.60" x2="369.20" y2="506.60" stroke="#a8a8a8" stroke-width="0.9"/>
<text x="366.80" y="508.79" font-size="9.20" text-anchor="end" fill="#1e1e1e">2.0</text>
<line x1="367.20" y1="493.65" x2="369.20" y2="493.65" stroke="#a8a8a8" stroke-width="0.9"/>
<text x="366.80" y="495.84" font-size="9.20" text-anchor="end" fill="#1e1e1e">2.5</text>
<line x1="367.20" y1="480.70" x2="369.20" y2="480.70" stroke="#a8a8a8" stroke-width="0.9"/>
<text x="366.80" y="482.89" font-size="9.20" text-anchor="end" fill="#1e1e1e">3.0</text>
<line x1="369.20" y1="558.40" x2="492.40" y2="558.40" stroke="#a8a8a8" stroke-width="0.9"/>
<rect x="374.00" y="532.50" width="7.20" height="25.90" fill="#5d7abb" />
<line x1="377.60" y1="532.50" x2="377.60" y2="527.90" stroke="#808080" stroke-width="0.75"/>
<line x1="376.40" y1="527.90" x2="378.80" y2="527.90" stroke="#808080" stroke-width="0.75"/>
<rect x="381.20" y="532.50" width="8.80" height="25.90" fill="#7a9440" />
<line x1="385.60" y1="532.50" x2="385.60" y2="529.10" stroke="#808080" stroke-width="0.75"/>
<line x1="384.40" y1="529.10" x2="386.80" y2="529.10" stroke="#808080" stroke-width="0.75"/>
<rect x="399.10" y="513.85" width="7.70" height="44.55" fill="#5d7abb" />
<line x1="402.95" y1="513.85" x2="402.95" y2="508.80" stroke="#808080" stroke-width="0.75"/>
<line x1="401.75" y1="508.80" x2="404.15" y2="508.80" stroke="#808080" stroke-width="0.75"/>
<rect x="406.80" y="524.21" width="8.60" height="34.19" fill="#7a9440" />
<line x1="411.10" y1="524.21" x2="411.10" y2="520.80" stroke="#808080" stroke-width="0.75"/>
<line x1="409.90" y1="520.80" x2="412.30" y2="520.80" stroke="#808080" stroke-width="0.75"/>
<rect x="424.00" y="533.54" width="7.70" height="24.86" fill="#5d7abb" />
<line x1="427.85" y1="533.54" x2="427.85" y2="529.20" stroke="#808080" stroke-width="0.75"/>
<line x1="426.65" y1="529.20" x2="429.05" y2="529.20" stroke="#808080" stroke-width="0.75"/>
<rect x="431.70" y="540.01" width="8.40" height="18.39" fill="#7a9440" />
<line x1="435.90" y1="540.01" x2="435.90" y2="538.30" stroke="#808080" stroke-width="0.75"/>
<line x1="434.70" y1="538.30" x2="437.10" y2="538.30" stroke="#808080" stroke-width="0.75"/>
<rect x="448.70" y="497.53" width="8.20" height="60.87" fill="#5d7abb" />
<line x1="452.80" y1="497.53" x2="452.80" y2="493.20" stroke="#808080" stroke-width="0.75"/>
<line x1="451.60" y1="493.20" x2="454.00" y2="493.20" stroke="#808080" stroke-width="0.75"/>
<rect x="456.90" y="513.07" width="7.90" height="45.33" fill="#7a9440" />
<line x1="460.85" y1="513.07" x2="460.85" y2="508.00" stroke="#808080" stroke-width="0.75"/>
<line x1="459.65" y1="508.00" x2="462.05" y2="508.00" stroke="#808080" stroke-width="0.75"/>
<rect x="473.70" y="507.12" width="7.90" height="51.28" fill="#5d7abb" />
<line x1="477.65" y1="507.12" x2="477.65" y2="502.30" stroke="#808080" stroke-width="0.75"/>
<line x1="476.45" y1="502.30" x2="478.85" y2="502.30" stroke="#808080" stroke-width="0.75"/>
<rect x="481.60" y="518.51" width="8.40" height="39.89" fill="#7a9440" />
<line x1="485.80" y1="518.51" x2="485.80" y2="516.00" stroke="#808080" stroke-width="0.75"/>
<line x1="484.60" y1="516.00" x2="487.00" y2="516.00" stroke="#808080" stroke-width="0.75"/>
<polyline points="402.70,505.10 428.00,505.10 428.00,526.70" fill="none" stroke="#222" stroke-width="1.6"/>
<text x="415.30" y="507.30" font-size="15.00" text-anchor="middle" font-weight="bold" fill="#1e1e1e">*</text>
<polyline points="411.10,517.50 436.50,517.50 436.50,536.00" fill="none" stroke="#222" stroke-width="1.6"/>
<text x="421.70" y="520.90" font-size="15.00" text-anchor="middle" font-weight="bold" fill="#1e1e1e">*</text>
<text transform="translate(384.40,590.30) rotate(-90)" x="0" y="0" font-size="8.93" text-anchor="start" fill="#1e1e1e">Control</text>
<text x="405.00" y="569.90" font-size="9.50" text-anchor="middle" fill="#1e1e1e">-</text>
<text x="431.20" y="569.90" font-size="9.50" text-anchor="middle" fill="#1e1e1e">+</text>
<text x="457.10" y="569.90" font-size="9.50" text-anchor="middle" fill="#1e1e1e">-</text>
<text x="482.10" y="569.90" font-size="9.50" text-anchor="middle" fill="#1e1e1e">+</text>
<line x1="399.00" y1="574.30" x2="442.70" y2="574.30" stroke="#1e1e1e" stroke-width="1.2"/>
<line x1="447.50" y1="574.30" x2="492.40" y2="574.30" stroke="#1e1e1e" stroke-width="1.2"/>
<text x="406.00" y="584.96" font-size="8.28" text-anchor="start" fill="#1e1e1e">Akt-WT</text>
<text x="455.70" y="585.14" font-size="8.77" text-anchor="start" fill="#1e1e1e">Akt-Myr</text>
<text x="497.90" y="567.96" font-size="8.55" text-anchor="start" fill="#1e1e1e">AZD</text>
<text x="497.10" y="578.27" font-size="8.58" text-anchor="start" fill="#1e1e1e">8055</text>
<text transform="translate(337.30,547.80) rotate(-90)" x="0" y="0" font-size="8.22" text-anchor="start" fill="#1e1e1e">Fold difference</text>
<text transform="translate(347.60,554.30) rotate(-90)" x="0" y="0" font-size="8.25" text-anchor="start" fill="#1e1e1e">(relative to control)</text>
</g>
</svg></body></html>
